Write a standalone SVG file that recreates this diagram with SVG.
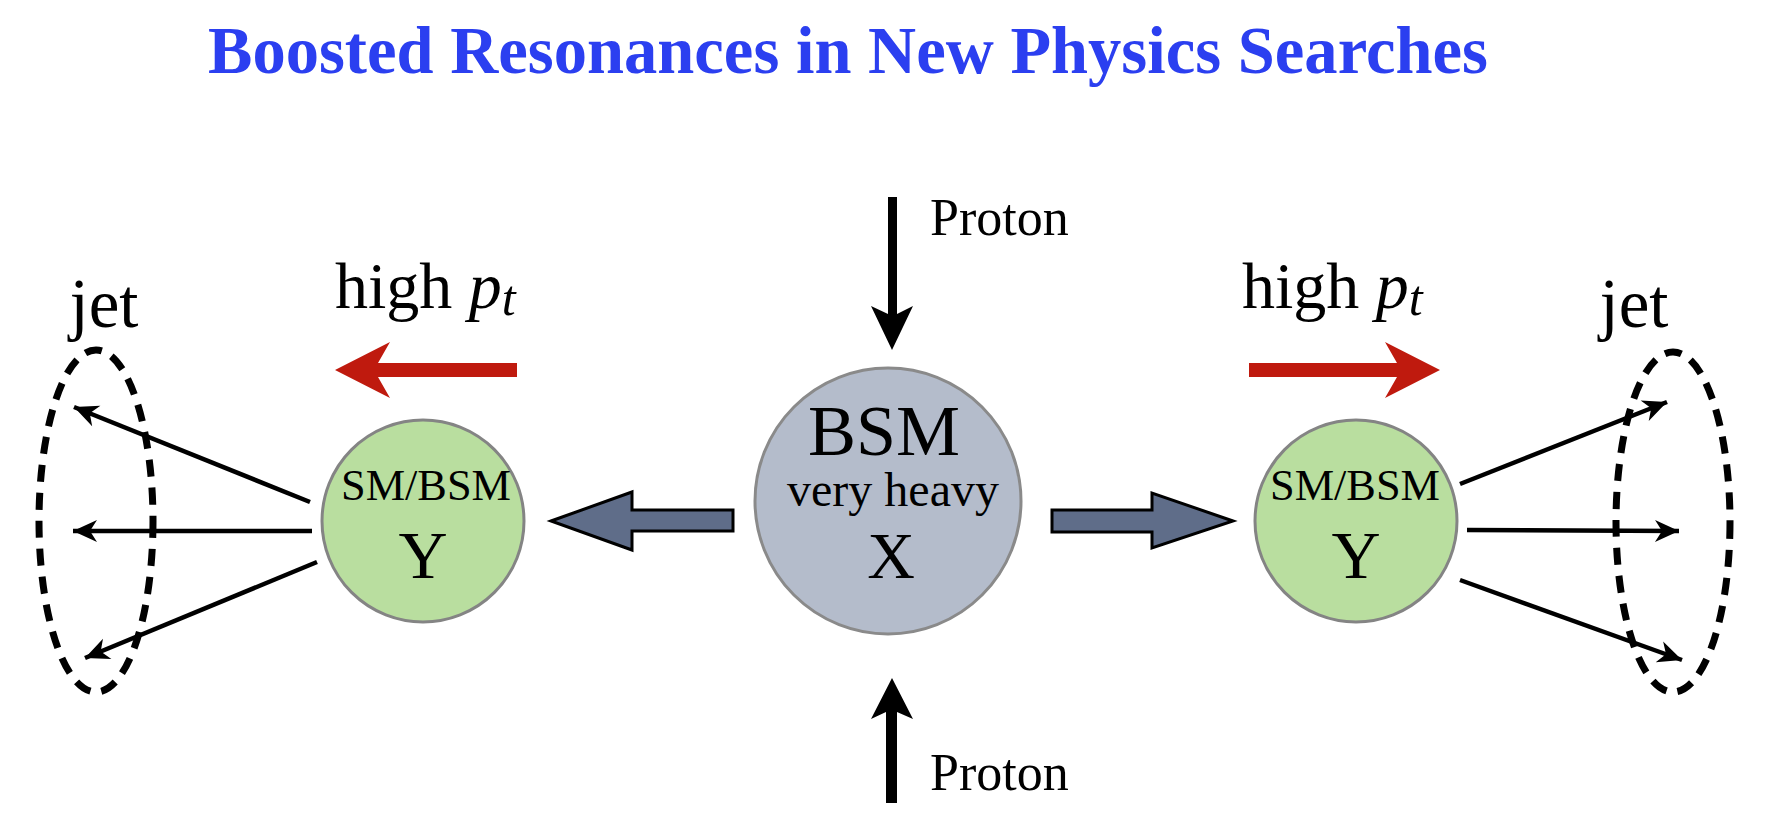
<svg xmlns="http://www.w3.org/2000/svg" width="1767" height="824" viewBox="0 0 1767 824">
<defs>
<style>
.serif{font-family:"Liberation Serif","Times New Roman",serif;fill:#000;}
.title{font-family:"Liberation Serif","Times New Roman",serif;font-weight:bold;fill:#2b3ff0;font-size:68px;}
.jet{fill:none;stroke:#000;stroke-width:7;stroke-dasharray:17 11;}
.fan{fill:none;stroke:#000;stroke-width:4.5;}
.ycirc{fill:#b9de9f;stroke:#848484;stroke-width:3;}
.xcirc{fill:#b4bccb;stroke:#8a8a8a;stroke-width:3;}
.gray{fill:#5f6d89;stroke:#000;stroke-width:3;stroke-linejoin:miter;}
.red{fill:#bf1a0e;}
.blk{fill:#000;}
</style>
<marker id="ah" markerUnits="userSpaceOnUse" markerWidth="30" markerHeight="30" viewBox="-26 -14 30 28" refX="0" refY="0" orient="auto">
<path d="M0,0 L-24,-11 L-17,0 L-24,11 Z" fill="#000"/>
</marker>
</defs>
<rect width="1767" height="824" fill="#fff"/>
<text class="title" x="208" y="73" textLength="1280" lengthAdjust="spacingAndGlyphs">Boosted Resonances in New Physics Searches</text>

<g id="connectors">
<polygon id="proton-top-arrow" class="blk" points="888,197 897,197 897,314 913,306 892,350 871,306 888,314"/>
<polygon id="proton-bottom-arrow" class="blk" points="886,803 897,803 897,712 913,719 892,678 871,719 886,712"/>
<polygon id="gray-left" class="gray" points="551,521 632,492 632,510 733,510 733,531 632,531 632,550"/>
<polygon id="gray-right" class="gray" points="1233,521 1152,493 1152,510 1052,510 1052,532 1152,532 1152,548"/>
<polygon id="red-left" class="red" points="335,370 390,342 378,363 517,363 517,377 378,377 390,398"/>
<polygon id="red-right" class="red" points="1440,370 1385,342 1397,363 1249,363 1249,377 1397,377 1385,398"/>
<line class="fan" x1="310" y1="502" x2="74" y2="407" marker-end="url(#ah)"/>
<line class="fan" x1="312" y1="531" x2="73" y2="531" marker-end="url(#ah)"/>
<line class="fan" x1="317" y1="562" x2="85" y2="658" marker-end="url(#ah)"/>
<line class="fan" x1="1460" y1="484" x2="1667" y2="402" marker-end="url(#ah)"/>
<line class="fan" x1="1467" y1="530" x2="1679" y2="531" marker-end="url(#ah)"/>
<line class="fan" x1="1460" y1="580" x2="1682" y2="660" marker-end="url(#ah)"/>
</g>

<g id="jet-left">
<ellipse class="jet" cx="96" cy="521" rx="57" ry="171"/>
<text class="serif" x="104" y="327" font-size="69" text-anchor="middle">jet</text>
</g>
<g id="jet-right">
<ellipse class="jet" cx="1673" cy="522" rx="57" ry="170"/>
<text class="serif" x="1634" y="327" font-size="69" text-anchor="middle">jet</text>
</g>

<g id="label-left">
<text class="serif" x="335" y="308" font-size="66">high <tspan font-style="italic">p</tspan><tspan font-style="italic" font-size="50" y="315">t</tspan></text>
</g>
<g id="label-right">
<text class="serif" x="1242" y="308" font-size="66">high <tspan font-style="italic">p</tspan><tspan font-style="italic" font-size="50" y="315">t</tspan></text>
</g>

<g id="proton-top-label">
<text class="serif" x="930" y="235" font-size="52">Proton</text>
</g>
<g id="proton-bottom-label">
<text class="serif" x="930" y="790" font-size="52">Proton</text>
</g>

<g id="node-X">
<circle class="xcirc" cx="888" cy="501" r="133"/>
<text class="serif" x="884" y="455" font-size="72" text-anchor="middle">BSM</text>
<text class="serif" x="893" y="506" font-size="48" text-anchor="middle">very heavy</text>
<text class="serif" x="891" y="578" font-size="66" text-anchor="middle">X</text>
</g>

<g id="node-Y-left">
<circle class="ycirc" cx="423" cy="521" r="101"/>
<text class="serif" x="426" y="500" font-size="44" text-anchor="middle" textLength="170" lengthAdjust="spacingAndGlyphs">SM/BSM</text>
<text class="serif" x="423" y="578" font-size="68" text-anchor="middle">Y</text>
</g>
<g id="node-Y-right">
<circle class="ycirc" cx="1356" cy="521" r="101"/>
<text class="serif" x="1355" y="500" font-size="44" text-anchor="middle" textLength="170" lengthAdjust="spacingAndGlyphs">SM/BSM</text>
<text class="serif" x="1356" y="578" font-size="68" text-anchor="middle">Y</text>
</g>
</svg>
